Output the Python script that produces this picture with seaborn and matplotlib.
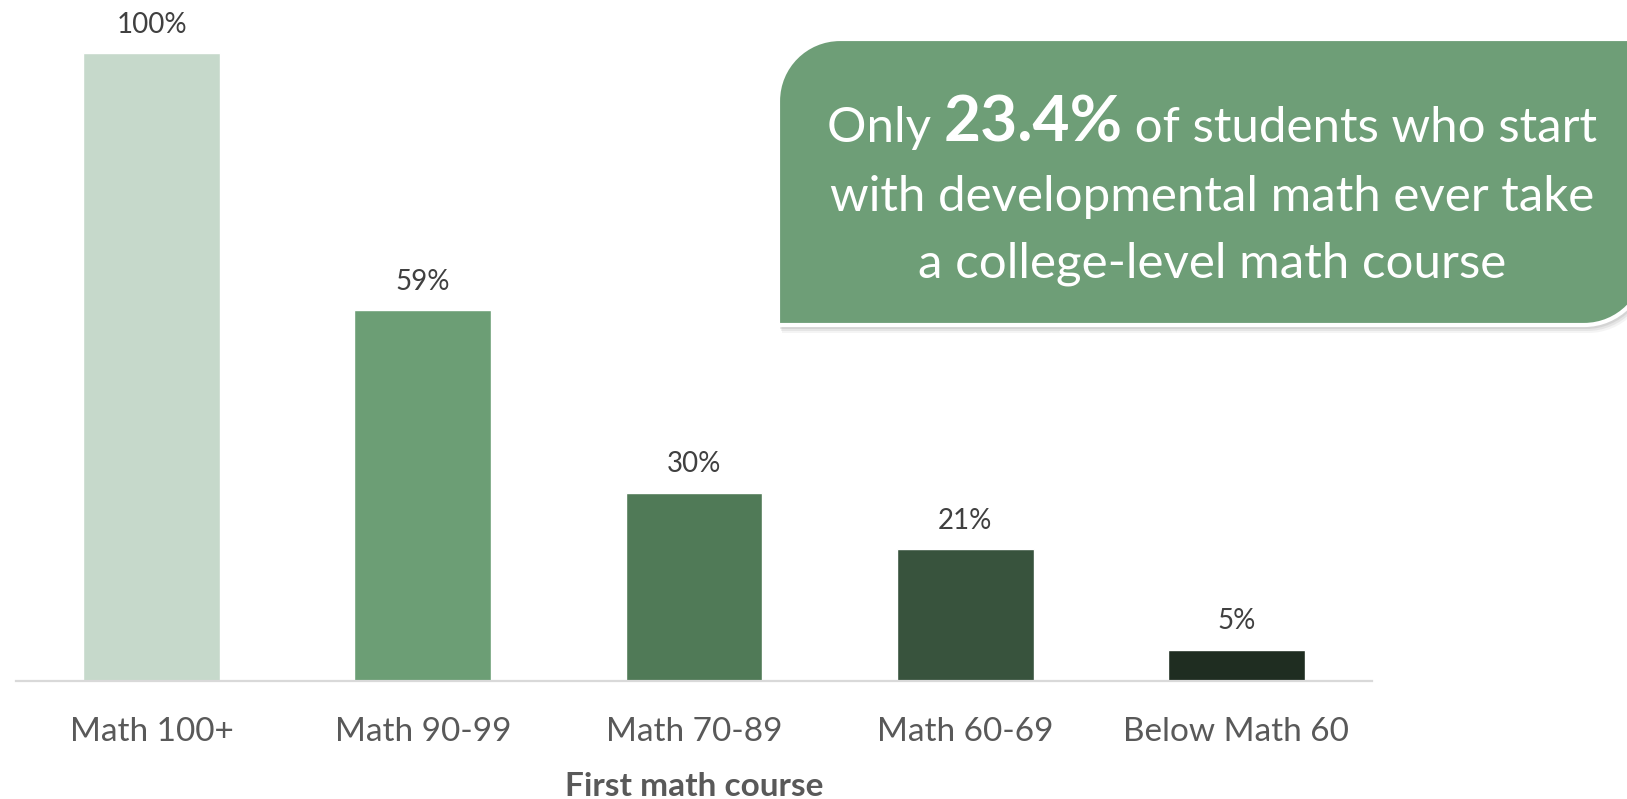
import matplotlib
matplotlib.use("Agg")
import matplotlib.pyplot as plt
from matplotlib.path import Path
from matplotlib.patches import PathPatch
import seaborn as sns
import pandas as pd

# Share of students reaching a college-level math course, by first math course
courses = ["Math 100+", "Math 90-99", "Math 70-89", "Math 60-69", "Below Math 60"]
shares = [100, 59, 30, 21, 5]
bar_colors = ["#C6D9CB", "#6C9E75", "#507A57", "#38533D", "#1F2D21"]
x_title = "First math course"
callout_pre = "Only "
callout_bold = "23.4%"
callout_post = " of students who start"
callout_rest = ["with developmental math ever take", "a college-level math course"]

W, H = 1627, 799
sns.set_theme(style="white")
plt.rcParams["font.family"] = ["Lato", "DejaVu Sans"]

df = pd.DataFrame({"course": courses, "share": shares})

fig = plt.figure(figsize=(W / 100, H / 100), dpi=100)
ax = fig.add_axes([16 / W, (H - 681) / H, 1356 / W, (681 - 53) / H])

sns.barplot(data=df, x="course", y="share", hue="course", palette=bar_colors,
            order=courses, hue_order=courses, width=0.505, saturation=1,
            legend=False, ax=ax)

ax.set_ylim(0, 100)
ax.set_xlim(-0.5, len(courses) - 0.5)
ax.set_yticks([])
ax.set_ylabel("")
for side in ("left", "right", "top"):
    ax.spines[side].set_visible(False)
ax.spines["bottom"].set_color("#D9D9D9")
ax.spines["bottom"].set_linewidth(1.6)
ax.tick_params(axis="x", length=0, pad=26, labelsize=24, labelcolor="#595959")
ax.set_xlabel(x_title, fontsize=24, fontweight="bold", color="#595959", labelpad=18)

for cont in ax.containers:
    ax.bar_label(cont, fmt="%g%%", padding=11, fontsize=20, color="#404040",
                 clip_on=False)

# Callout box: rounded top-left and bottom-right corners
L, R, T, B, r = 778, 1646, 39, 325, 62
k = 0.5523 * r


def fx(px):
    return px / W


def fy(py):
    return 1 - py / H


def callout_path(dx=0, dy=0):
    pts = [
        (L, B), (L, T + r),
        (L, T + r - k), (L + r - k, T), (L + r, T),
        (R, T), (R, B - r),
        (R, B - r + k), (R - r + k, B), (R - r, B),
        (L, B),
    ]
    codes = [Path.MOVETO, Path.LINETO,
             Path.CURVE4, Path.CURVE4, Path.CURVE4,
             Path.LINETO, Path.LINETO,
             Path.CURVE4, Path.CURVE4, Path.CURVE4,
             Path.CLOSEPOLY]
    verts = [(fx(x + dx), fy(y + dy)) for x, y in pts]
    return Path(verts, codes)


# soft drop shadow built from a few offset layers
for i, a in enumerate([0.08, 0.12, 0.16]):
    off = 8 - 2 * i
    fig.add_artist(PathPatch(callout_path(off * 0.5, off), transform=fig.transFigure,
                             facecolor="#7F7F7F", edgecolor="none", alpha=a, zorder=5))
fig.add_artist(PathPatch(callout_path(), transform=fig.transFigure,
                         facecolor="#6E9E77", edgecolor="white", linewidth=3, zorder=6))

cx = 1212
fig.canvas.draw()
renderer = fig.canvas.get_renderer()

# size the callout text so the widest line spans the box's text area
probe = fig.text(0, 0, callout_rest[0], fontsize=40, color="white")
line_font = 40 * 764 / probe.get_window_extent(renderer).width
probe.remove()
bold_font = line_font * 1.3
baselines = [142, 211, 277]

pieces = [(callout_pre, line_font, "normal"), (callout_bold, bold_font, "bold"),
          (callout_post, line_font, "normal")]
texts = []
for s, fs, fw in pieces:
    t = fig.text(0, fy(baselines[0]), s, fontsize=fs, fontweight=fw, color="white",
                 ha="left", va="baseline", zorder=7)
    texts.append(t)
widths = [t.get_window_extent(renderer).width for t in texts]
x0 = cx - sum(widths) / 2
for t, w in zip(texts, widths):
    t.set_position((fx(x0), fy(baselines[0])))
    x0 += w

for yy, s in zip(baselines[1:], callout_rest):
    fig.text(fx(cx), fy(yy), s, fontsize=line_font, color="white",
             ha="center", va="baseline", zorder=7)

fig.savefig("out.png", dpi=100)
